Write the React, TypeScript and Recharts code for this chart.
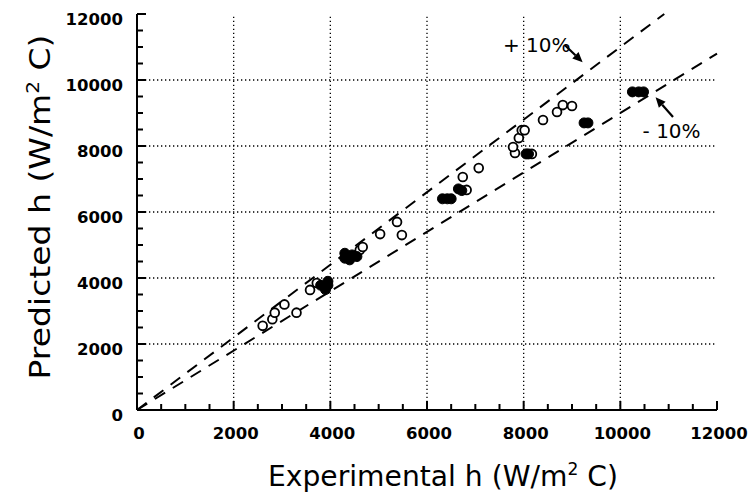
import { ScatterChart, Scatter, XAxis, YAxis, ReferenceLine, ReferenceDot } from 'recharts';

/* eslint-disable @typescript-eslint/no-explicit-any */

const minorTicks = [
  0, 500, 1000, 1500, 2000, 2500, 3000, 3500, 4000, 4500, 5000, 5500, 6000,
  6500, 7000, 7500, 8000, 8500, 9000, 9500, 10000, 10500, 11000, 11500, 12000,
];
const gridValues = [2000, 4000, 6000, 8000, 10000];

// open circles
const openExp = [2600, 2800, 2850, 3050, 3300, 3580, 3720, 4610, 4670, 5030, 5380, 5480,
  6820, 6740, 7070, 7820, 7780, 8170, 7900, 7960, 8020, 8400, 8690, 8810, 9000];
const openPred = [2550, 2750, 2950, 3200, 2950, 3640, 3850, 4850, 4940, 5330, 5700, 5300,
  6670, 7060, 7330, 7790, 7970, 7760, 8240, 8480, 8480, 8790, 9030, 9240, 9210];

// filled circles (overlapping clusters)
const filledExp = [3800, 3950, 3900, 3950, 4300, 4300, 4400, 4450, 4550, 6320, 6420, 6500,
  6650, 6720, 8050, 8100, 9250, 9330, 10250, 10380, 10480];
const filledPred = [3780, 3780, 3650, 3900, 4750, 4600, 4550, 4700, 4650, 6400, 6400, 6400,
  6700, 6650, 7760, 7760, 8700, 8700, 9640, 9640, 9640];

const plusBand = [{ x: 0, y: 0 }, { x: 10909, y: 12000 }];
const minusBand = [{ x: 0, y: 0 }, { x: 12000, y: 10800 }];
const plusArrow = [{ x: 8850, y: 11060 }, { x: 9220, y: 10540 }];
const minusArrow = [{ x: 11090, y: 8880 }, { x: 10730, y: 9480 }];
const notes = [
  { x: 7570, y: 10850, text: '+ 10%' },
  { x: 10460, y: 8240, text: '- 10%' },
];

const openData = openExp.map((x, i) => ({ x, y: openPred[i] }));
const filledData = filledExp.map((x, i) => ({ x, y: filledPred[i] }));

const FONT = '"DejaVu Sans", sans-serif';
const MAJOR_LEN = 9;
const MINOR_LEN = 6;
const TICK_COLOR = '#000';

const BottomTick = (p: any) => {
  const v = p.payload.value;
  const major = v % 2000 === 0;
  return (
    <g>
      <line x1={p.x} y1={p.y} x2={p.x} y2={p.y - (major ? MAJOR_LEN : MINOR_LEN)} stroke={TICK_COLOR} strokeWidth={2} />
      {major && (
        <text x={p.x + 2} y={p.y + 29} textAnchor="middle" fontFamily={FONT} fontWeight="bold" fontSize={16.5} fill="#000">
          {v}
        </text>
      )}
    </g>
  );
};

const LeftTick = (p: any) => {
  const v = p.payload.value;
  const major = v % 2000 === 0;
  return (
    <g>
      <line x1={p.x} y1={p.y} x2={p.x + (major ? MAJOR_LEN : MINOR_LEN)} y2={p.y} stroke={TICK_COLOR} strokeWidth={2} />
      {major && (
        <text x={p.x - 14} y={p.y + 11} textAnchor="end" fontFamily={FONT} fontWeight="bold" fontSize={16.5} fill="#000">
          {v}
        </text>
      )}
    </g>
  );
};

const TopTick = (p: any) => {
  const major = p.payload.value % 2000 === 0;
  return <line x1={p.x} y1={p.y} x2={p.x} y2={p.y + (major ? MAJOR_LEN : MINOR_LEN)} stroke={TICK_COLOR} strokeWidth={2} />;
};

const RightTick = (p: any) => {
  const major = p.payload.value % 2000 === 0;
  return <line x1={p.x} y1={p.y} x2={p.x - (major ? MAJOR_LEN : MINOR_LEN)} y2={p.y} stroke={TICK_COLOR} strokeWidth={2} />;
};

const Arrow = (p: any) => {
  const { x1, y1, x2, y2 } = p;
  const a = Math.atan2(y2 - y1, x2 - x1);
  const len = 10;
  const w = 4.5;
  const bx = x2 - len * Math.cos(a);
  const by = y2 - len * Math.sin(a);
  const pts = [
    `${x2},${y2}`,
    `${bx + w * Math.sin(a)},${by - w * Math.cos(a)}`,
    `${bx - w * Math.sin(a)},${by + w * Math.cos(a)}`,
  ].join(' ');
  return (
    <g>
      <line x1={x1} y1={y1} x2={bx} y2={by} stroke="#000" strokeWidth={2.2} />
      <polygon points={pts} fill="#000" />
    </g>
  );
};

const axisLine = { stroke: '#000', strokeWidth: 2 };

export default function App() {
  return (
    <div style={{ position: 'absolute', left: 0, top: 0, background: '#fff' }}>
      <ScatterChart width={755} height={493} margin={{ top: 14, right: 38, bottom: 0, left: 0 }}>
        <XAxis
          xAxisId="b" type="number" dataKey="x" orientation="bottom" domain={[0, 12000]}
          ticks={minorTicks} interval={0} height={83} tickSize={0} tickMargin={0}
          tick={BottomTick} axisLine={axisLine} tickLine={false} allowDataOverflow
          label={{
            content: () => (
              <text
                x={443} y={486} textAnchor="middle" fontFamily={FONT} fontSize={28} fill="#000"
                textLength={350} lengthAdjust="spacingAndGlyphs"
              >
                Experimental h (W/m<tspan dy={-11} fontSize={17}>2</tspan>
                <tspan dy={11}> C)</tspan>
              </text>
            ),
          }}
        />
        <XAxis
          xAxisId="t" type="number" dataKey="x" orientation="top" domain={[0, 12000]}
          ticks={minorTicks} interval={0} height={0} tickSize={0} tickMargin={0}
          tick={TopTick} axisLine={axisLine} tickLine={false} allowDataOverflow
        />
        <YAxis
          yAxisId="l" type="number" dataKey="y" orientation="left" domain={[0, 12000]}
          ticks={minorTicks} interval={0} width={137} tickSize={0} tickMargin={0}
          tick={LeftTick} axisLine={axisLine} tickLine={false} allowDataOverflow
          label={{
            content: () => (
              <text
                x={50} y={207} transform="rotate(-90 50 207)" textAnchor="middle"
                fontFamily={FONT} fontSize={28} fill="#000"
                textLength={345} lengthAdjust="spacingAndGlyphs"
              >
                Predicted h (W/m<tspan dy={-11} fontSize={17}>2</tspan>
                <tspan dy={11}> C)</tspan>
              </text>
            ),
          }}
        />
        <YAxis
          yAxisId="r" type="number" dataKey="y" orientation="right" domain={[0, 12000]}
          ticks={minorTicks} interval={0} width={0} tickSize={0} tickMargin={0}
          tick={RightTick} axisLine={axisLine} tickLine={false} allowDataOverflow
        />

        {gridValues.map((v) => (
          <ReferenceLine key={`gx${v}`} xAxisId="b" yAxisId="l" x={v} stroke="#000" strokeWidth={1.3} strokeDasharray="1.3 2.7" />
        ))}
        {gridValues.map((v) => (
          <ReferenceLine key={`gy${v}`} xAxisId="b" yAxisId="l" y={v} stroke="#000" strokeWidth={1.3} strokeDasharray="1.3 2.7" />
        ))}

        <ReferenceLine xAxisId="b" yAxisId="l" segment={plusBand} stroke="#000" strokeWidth={2} strokeDasharray="12 9" />
        <ReferenceLine xAxisId="b" yAxisId="l" segment={minusBand} stroke="#000" strokeWidth={2} strokeDasharray="12 9" />
        <ReferenceLine xAxisId="b" yAxisId="l" segment={plusArrow} shape={Arrow} />
        <ReferenceLine xAxisId="b" yAxisId="l" segment={minusArrow} shape={Arrow} />
        {notes.map((n) => (
          <ReferenceDot
            key={n.text} xAxisId="b" yAxisId="l" x={n.x} y={n.y} r={0}
            shape={(p: any) => (
              <text x={p.cx} y={p.cy} fontFamily={FONT} fontSize={20} fill="#000">{n.text}</text>
            )}
          />
        ))}

        {/* invisible copy so the mirror axes (top/right) get a domain and draw their ticks */}
        <Scatter
          xAxisId="t" yAxisId="r" data={openData} isAnimationActive={false}
          shape={() => <g />}
        />
        <Scatter
          xAxisId="b" yAxisId="l" data={openData} isAnimationActive={false}
          shape={(p: any) => <circle cx={p.cx} cy={p.cy} r={4.4} fill="#fff" stroke="#000" strokeWidth={1.8} />}
        />
        <Scatter
          xAxisId="b" yAxisId="l" data={filledData} isAnimationActive={false}
          shape={(p: any) => <circle cx={p.cx} cy={p.cy} r={5} fill="#000" stroke="#000" strokeWidth={1} />}
        />
      </ScatterChart>
    </div>
  );
}
